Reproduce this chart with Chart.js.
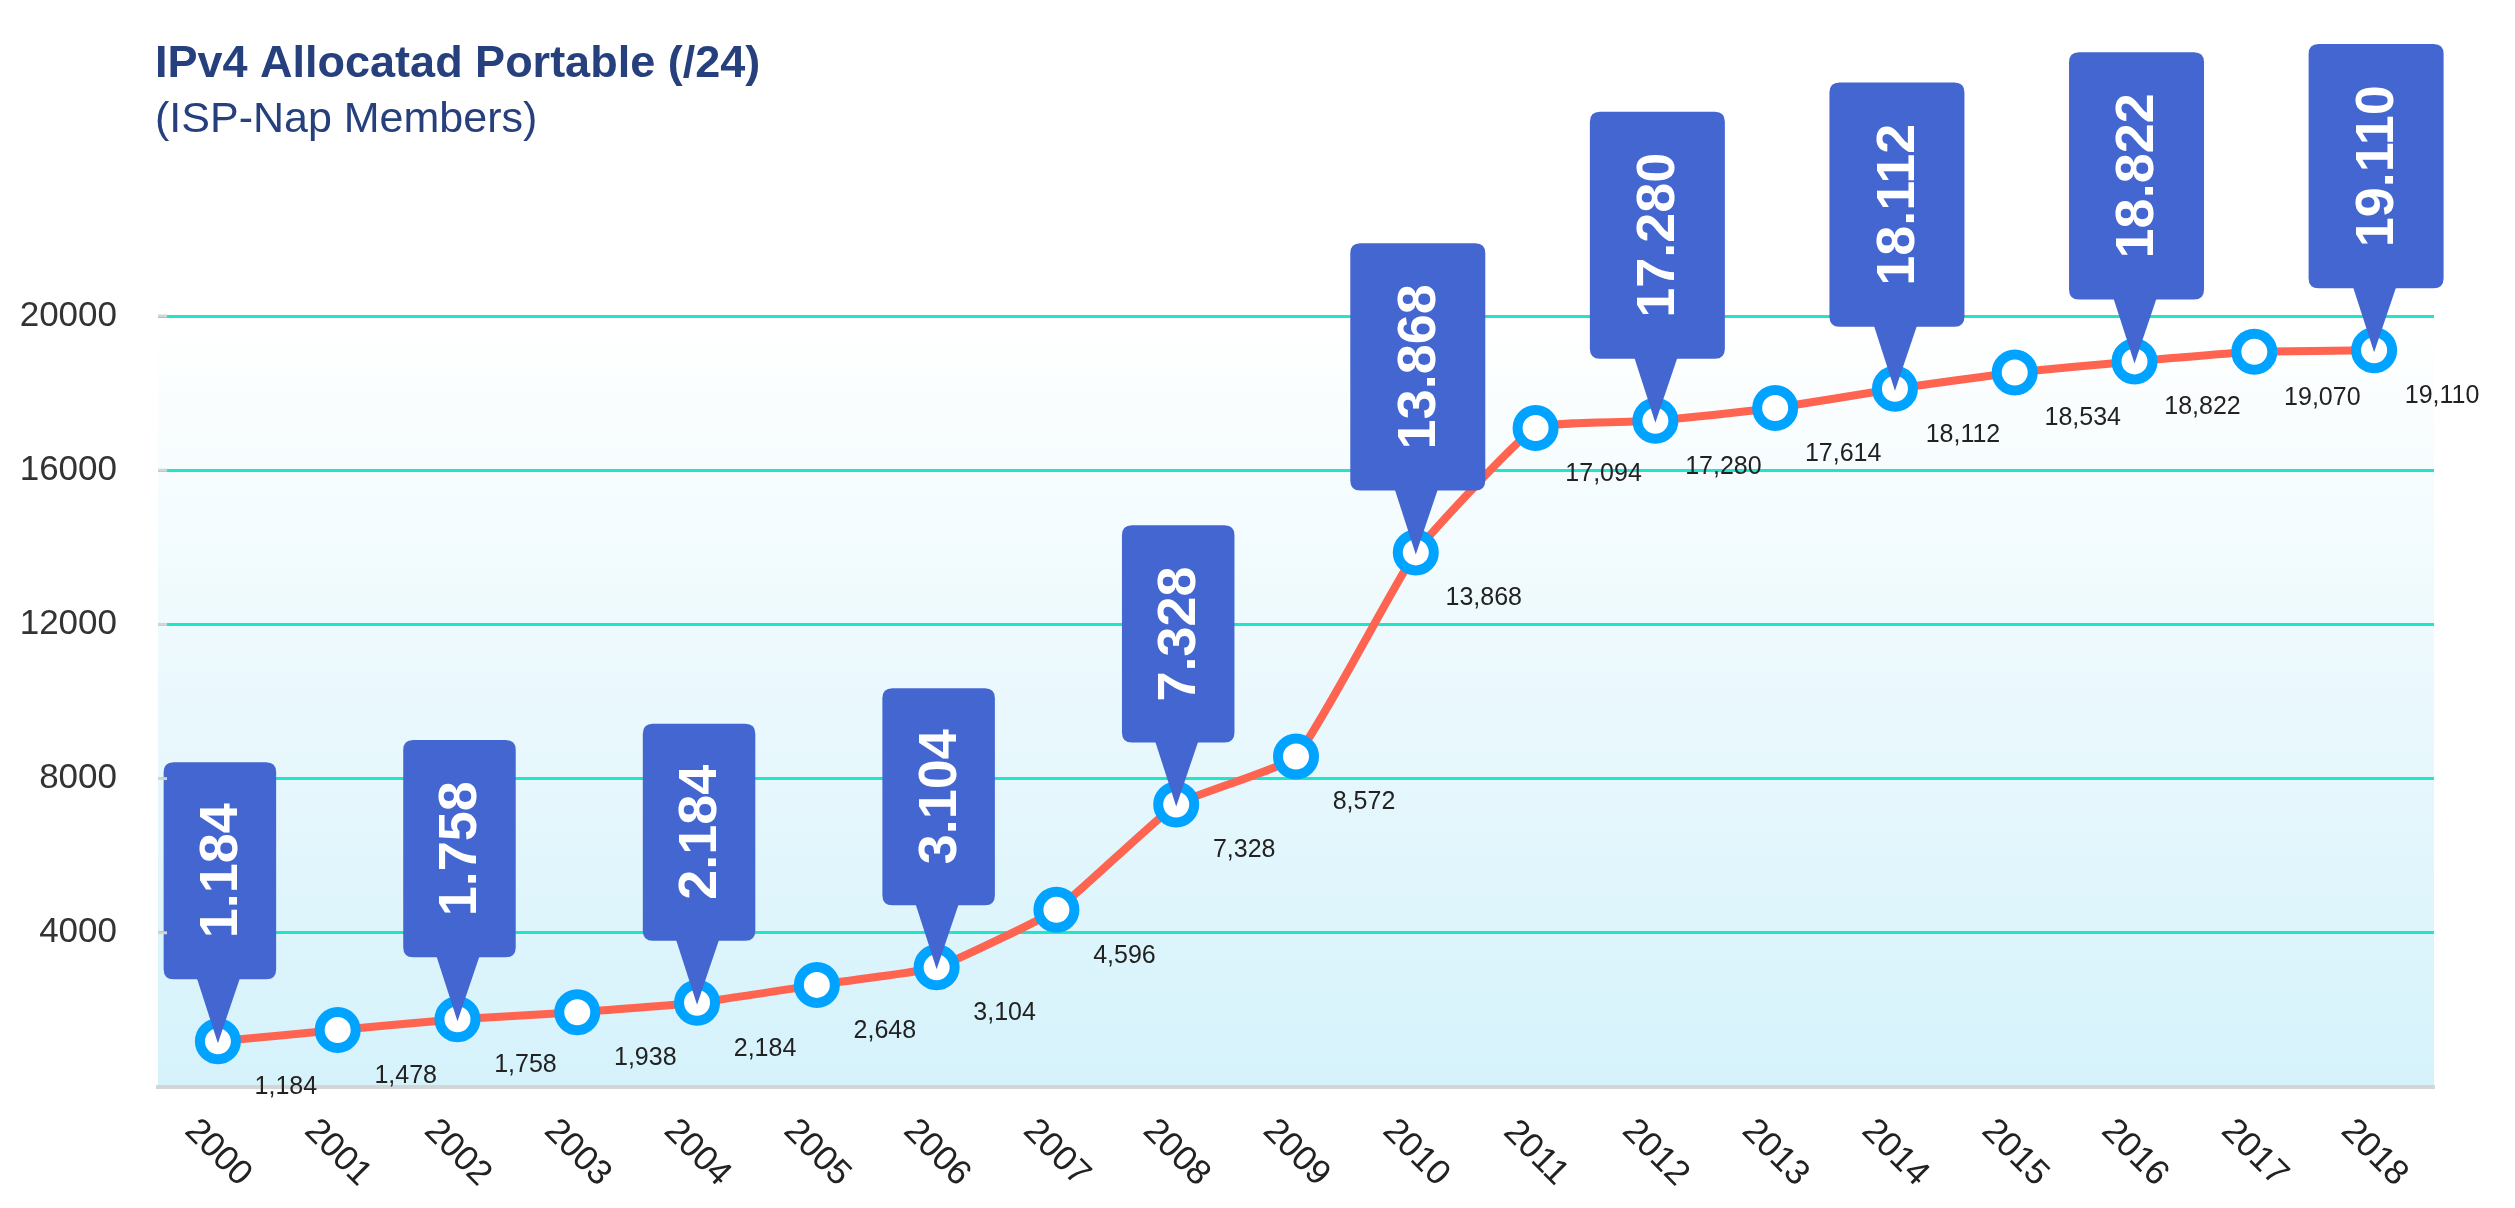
<!DOCTYPE html>
<html>
<head>
<meta charset="utf-8">
<title>IPv4 Allocatad Portable</title>
<script src="https://cdn.jsdelivr.net/npm/chart.js@4.4.1/dist/chart.umd.min.js"></script>
<style>
  html, body { margin: 0; padding: 0; background: #ffffff; }
  canvas { display: block; }
</style>
</head>
<body>
<canvas id="ipChart" width="2515" height="1208"></canvas>
<script>
var years = ['2000', '2001', '2002', '2003', '2004', '2005', '2006', '2007', '2008', '2009',
             '2010', '2011', '2012', '2013', '2014', '2015', '2016', '2017', '2018'];
var allocated = [1184, 1478, 1758, 1938, 2184, 2648, 3104, 4596, 7328, 8572,
                 13868, 17094, 17280, 17614, 18112, 18534, 18822, 19070, 19110];
var yTicks = [0, 4000, 8000, 12000, 16000, 20000];
// years that get the big blue callout
var calloutYears = ['2000', '2002', '2004', '2006', '2008', '2010', '2012', '2014', '2016', '2018'];

var titleText = 'IPv4 Allocatad Portable (/24)';
var subtitleText = '(ISP-Nap Members)';

var FONT = '"Helvetica Neue", Helvetica, "Liberation Sans", Arial, sans-serif';

function commaFmt(v) {
  return v.toLocaleString('en-US');
}
function dotFmt(v) {
  return v.toLocaleString('en-US').replace(/,/g, '.');
}

function roundRect(ctx, x, y, w, h, r) {
  ctx.beginPath();
  ctx.moveTo(x + r, y);
  ctx.lineTo(x + w - r, y);
  ctx.quadraticCurveTo(x + w, y, x + w, y + r);
  ctx.lineTo(x + w, y + h - r);
  ctx.quadraticCurveTo(x + w, y + h, x + w - r, y + h);
  ctx.lineTo(x + r, y + h);
  ctx.quadraticCurveTo(x, y + h, x, y + h - r);
  ctx.lineTo(x, y + r);
  ctx.quadraticCurveTo(x, y, x + r, y);
  ctx.closePath();
}

// plot background gradient
var bgPlugin = {
  id: 'bgPlugin',
  beforeDraw: function(chart) {
    var a = chart.chartArea;
    var ctx = chart.ctx;
    var g = ctx.createLinearGradient(0, a.top, 0, a.bottom);
    g.addColorStop(0, '#ffffff');
    g.addColorStop(1, '#d5f2fb');
    ctx.save();
    ctx.fillStyle = g;
    ctx.fillRect(a.left, a.top, a.right - a.left, a.bottom - a.top);
    ctx.restore();
  },
  afterDraw: function(chart) {
    // little grey stubs at the start of each grid line
    var ctx = chart.ctx;
    var a = chart.chartArea;
    var ys = chart.scales.y;
    ctx.save();
    ctx.strokeStyle = '#cfd6d6';
    ctx.lineWidth = 3;
    yTicks.forEach(function(v) {
      if (v === 0) return;
      var py = ys.getPixelForValue(v);
      ctx.beginPath();
      ctx.moveTo(a.left, py);
      ctx.lineTo(a.left + 9, py);
      ctx.stroke();
    });
    ctx.restore();
  }
};

var labelPlugin = {
  id: 'labelPlugin',
  afterDatasetsDraw: function(chart) {
    var ctx = chart.ctx;
    var meta = chart.getDatasetMeta(0);
    var xs = chart.scales.x;
    var a = chart.chartArea;

    ctx.save();

    // small value labels below-right of each point
    ctx.font = '25px ' + FONT;
    ctx.fillStyle = '#222222';
    ctx.textAlign = 'center';
    ctx.textBaseline = 'middle';
    meta.data.forEach(function(pt, i) {
      ctx.fillText(commaFmt(allocated[i]), pt.x + 68, pt.y + 46);
    });

    // x axis year labels, rotated down to the right
    ctx.font = '35px ' + FONT;
    ctx.fillStyle = '#222222';
    years.forEach(function(yr, i) {
      var px = xs.getPixelForValue(i);
      ctx.save();
      ctx.translate(px, a.bottom + 66);
      ctx.rotate(Math.PI / 4);
      ctx.fillText(yr, 0, 0);
      ctx.restore();
    });

    // callouts
    ctx.font = 'bold 54px ' + FONT;
    meta.data.forEach(function(pt, i) {
      if (calloutYears.indexOf(years[i]) < 0) return;
      var txt = dotFmt(allocated[i]);
      var tw = ctx.measureText(txt).width;
      var w = txt.length * 22.5;
      var h = tw + 82;
      var ptr = 62;
      var bx = pt.x + 2 - w / 2;
      var by = pt.y - ptr - h;
      ctx.fillStyle = '#4366d0';
      roundRect(ctx, bx, by, w, h, 10);
      ctx.fill();
      ctx.beginPath();
      ctx.moveTo(pt.x - 21, by + h - 1);
      ctx.lineTo(pt.x + 22, by + h - 1);
      ctx.lineTo(pt.x, pt.y + 2);
      ctx.closePath();
      ctx.fill();
      ctx.save();
      ctx.translate(bx + w / 2, by + h / 2);
      ctx.rotate(-Math.PI / 2);
      ctx.fillStyle = '#ffffff';
      ctx.textAlign = 'center';
      ctx.textBaseline = 'middle';
      ctx.fillText(txt, 0, 2);
      ctx.restore();
    });

    // title + subtitle
    ctx.textAlign = 'left';
    ctx.textBaseline = 'alphabetic';
    ctx.fillStyle = '#263f7d';
    ctx.font = 'bold 45px ' + FONT;
    ctx.fillText(titleText, 155, 77);
    ctx.font = '43px ' + FONT;
    ctx.fillText(subtitleText, 155, 132);

    ctx.restore();
  }
};

var ctx = document.getElementById('ipChart').getContext('2d');
var chart = new Chart(ctx, {
  type: 'line',
  data: {
    labels: years,
    datasets: [{
      label: 'IPv4 Allocatad Portable',
      data: allocated,
      borderColor: '#ff6450',
      borderWidth: 8,
      tension: 0.12,
      fill: false,
      pointRadius: 18,
      pointHoverRadius: 18,
      pointBorderWidth: 10,
      pointBorderColor: '#00a3ff',
      pointBackgroundColor: '#ffffff'
    }]
  },
  options: {
    responsive: false,
    animation: false,
    layout: {
      padding: { top: 316, right: 81, bottom: 0, left: 0 }
    },
    plugins: {
      legend: { display: false },
      tooltip: { enabled: false }
    },
    scales: {
      x: {
        offset: true,
        grid: { display: false, drawTicks: false },
        border: { display: true, color: '#d3d6d6', width: 4 },
        ticks: { display: false },
        afterFit: function(scale) { scale.height = 121; }
      },
      y: {
        min: 0,
        max: 20000,
        border: { display: false },
        afterBuildTicks: function(axis) {
          axis.ticks = yTicks.map(function(v) { return { value: v }; });
        },
        afterFit: function(scale) { scale.width = 158; },
        grid: {
          drawTicks: false,
          lineWidth: 3,
          color: function(c) {
            return c.tick && c.tick.value === 0 ? 'rgba(0,0,0,0)' : '#1de6cd';
          }
        },
        ticks: {
          padding: 41,
          color: '#333333',
          font: { size: 35, family: FONT },
          callback: function(v) { return v === 0 ? '' : String(v); }
        }
      }
    }
  },
  plugins: [bgPlugin, labelPlugin]
});
</script>
</body>
</html>
